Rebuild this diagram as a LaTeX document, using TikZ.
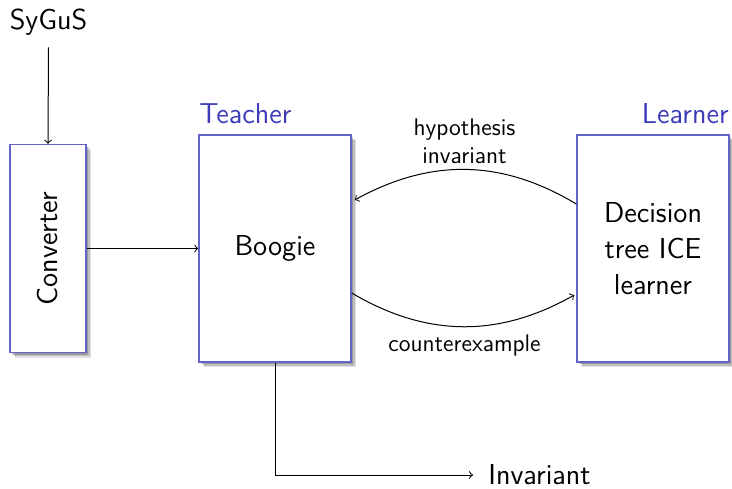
\documentclass[tikz,border=0pt]{standalone}
\usepackage{fontspec}
\usetikzlibrary{shadows,calc}
\definecolor{boxline}{RGB}{100,100,200}
\definecolor{rolecol}{RGB}{60,60,185}
\begin{document}
\begin{tikzpicture}[x=0.5pt,y=-0.5pt,
  font=\sffamily,
  box/.style={draw=boxline,fill=white,line width=0.7pt,align=center,font=\sffamily\Large,
    drop shadow={shadow xshift=2.5pt,shadow yshift=-2.5pt,opacity=0.12,fill=black},
    drop shadow={shadow xshift=1.8pt,shadow yshift=-1.8pt,opacity=0.15,fill=black},
    drop shadow={shadow xshift=1.1pt,shadow yshift=-1.1pt,opacity=0.2,fill=black}},
  role/.style={text=rolecol,font=\sffamily\Large,inner sep=0pt},
  lbl/.style={font=\sffamily\large,align=center,inner sep=0pt},
  arr/.style={->,line width=0.5pt}]
\useasboundingbox (0,0) rectangle (732,488);
\node[box,minimum width=38pt,minimum height=104pt,inner sep=0pt] (conv) at (48,248.5) {\rotatebox{90}{Converter}};
\node[box,minimum width=76pt,minimum height=113.5pt] (boogie) at (275,248.5) {Boogie};
\node[box,minimum width=76pt,minimum height=113.5pt] (learn) at (653,248.5) {Decision\\tree ICE\\learner};
\node[role,anchor=base west] (teacher) at (199,123) {Teacher};
\node[role,anchor=base east] (learnerlbl) at (729,123) {Learner};
\node[font=\sffamily\Large,anchor=base,inner sep=0pt] (sygus) at (48.5,29) {SyGuS};
\node[font=\sffamily\Large,anchor=west,inner xsep=7.5pt,inner ysep=0pt] (inv) at (473,475) {Invariant};
\node[lbl] (hyp) at (464.5,141) {hypothesis\\invariant};
\node[lbl,anchor=base] (cex) at (464.5,351) {counterexample};
\coordinate (s0) at ($(sygus.south)+(0,-6pt)$);
\draw[arr] (s0) -- (conv.north);
\draw[arr] (conv.east) -- (boogie.west);
\draw[arr] ($(learn.west)+(0,22.25pt)$) to[bend right=30] ($(boogie.east)+(1.5pt,24.25pt)$);
\draw[arr] ($(boogie.east)+(0,-22.25pt)$) to[bend right=30] ($(learn.west)+(-1pt,-23.25pt)$);
\draw[arr] (boogie.south) |- (inv.west);
\end{tikzpicture}
\end{document}
